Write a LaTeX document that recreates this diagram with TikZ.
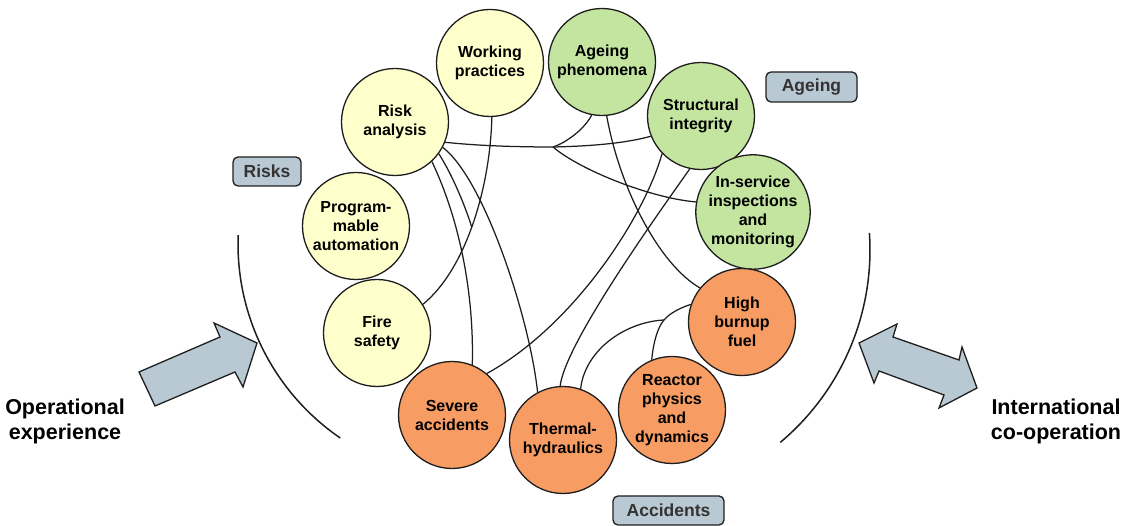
\documentclass[tikz,border=0pt]{standalone}
\usepackage{fontspec}
\setmainfont{Liberation Sans}
\definecolor{yel}{HTML}{FFFFCC}
\definecolor{grn}{HTML}{C3E5A0}
\definecolor{org}{HTML}{F79C63}
\definecolor{blu}{HTML}{B9C9D3}
\definecolor{ink}{HTML}{1E1E1E}
\definecolor{boxtxt}{HTML}{333333}
\tikzset{
  topic/.style={circle, draw=ink, line width=1.3pt, minimum size=107pt, inner sep=0pt,
    align=center, font=\fontsize{16}{19}\selectfont\bfseries},
  yt/.style={topic, fill=yel},
  gt/.style={topic, fill=grn},
  ot/.style={topic, fill=org},
  tag/.style={draw=ink, line width=1.3pt, fill=blu, rounded corners=5pt, inner sep=0pt,
    text=boxtxt, font=\fontsize{17.5}{20}\selectfont\bfseries},
  link/.style={draw=ink, line width=1.25pt},
  bigarrow/.style={draw=ink, line width=1.3pt, fill=blu, line join=miter},
  side/.style={align=center, font=\fontsize{21.5}{25}\selectfont\bfseries},
  bracket/.style={draw=ink, line width=1.5pt}
}
\begin{document}
\begin{tikzpicture}[x=1pt,y=1pt]
\useasboundingbox (0,0) rectangle (1122,526);
% topic circles
\node[yt] (wp) at (490,463) {Working\\practices};
\node[gt] (ap) at (602,464) {Ageing\\phenomena};
\node[gt] (si) at (701,410) {Structural\\integrity};
\node[gt] (isi) at (753,314) {In-service\\inspections\\and\\monitoring};
\node[ot] (hb) at (742,204) {High\\burnup\\fuel};
\node[ot] (rp) at (672,116) {Reactor\\physics\\and\\dynamics};
\node[ot] (th) at (563,86) {Thermal-\\hydraulics};
\node[ot] (sa) at (452,111) {Severe\\accidents};
\node[yt] (fs) at (377,193) {Fire\\safety};
\node[yt] (pa) at (356,300) {Program-\\mable\\automation};
\node[yt] (ra) at (395,404) {Risk\\analysis};
% group tags
\node[tag, minimum width=68pt, minimum height=29pt] (risks) at (267,354.5) {Risks};
\node[tag, minimum width=91pt, minimum height=30pt] (ageing) at (811.5,439) {Ageing};
\node[tag, minimum width=111pt, minimum height=29pt] (accidents) at (668.5,15.5) {Accidents};
% side texts
\node[side] (oper) at (65,105) {Operational\\experience};
\node[side] (intl) at (1056,105) {International\\co-operation};
% junctions
\coordinate (j1) at (553,379);
\coordinate (j2) at (664,206);
\coordinate (j3) at (471.7,298.9);
% connectors
\path[link] (wp.-88) .. controls (490,336) and (465,256) .. (fs.32);
\path[link] (ra.-36) .. controls (452,352) and (466,318) .. (j3);
\path[link] (ra.-22) .. controls (480,380) and (520,379) .. (j1);
\path[link] (j1) .. controls (568,384) and (585,398) .. (ap.-101);
\path[link] (j1) .. controls (600,380) and (630,384) .. (si.-158);
\path[link] (j1) .. controls (580,356) and (650,328) .. (isi.170);
\path[link] (ra.-47) .. controls (462,301) and (474,226) .. (sa.68);
\path[link] (ra.-28) .. controls (485,346) and (530,206) .. (th.118);
\path[link] (ap.-85) .. controls (620,336) and (660,261) .. (hb.141);
\path[link] (si.-136) .. controls (645,311) and (575,201) .. (sa.50);
\path[link] (si.-102) .. controls (650,301) and (565,181) .. (th.93);
\path[link] (hb.161) .. controls (680,218) and (670,213) .. (j2) .. controls (657,198) and (653,181) .. (rp.112);
\path[link] (th.71) .. controls (585,176) and (625,204) .. (j2);
% brackets
\coordinate (lac) at (238.2,290.9);
\draw[bracket] (lac) arc[start angle=177.8, end angle=235.6, radius=235];
\coordinate (rac) at (869.4,293.0);
\draw[bracket] (rac) arc[start angle=3.9, end angle=-50, radius=251];
% block arrows
\draw[bigarrow] (139,154) -- (220,189) -- (214,203) -- (257,183) -- (243,139) -- (235,154) -- (155,120) -- cycle;
\draw[bigarrow] (859,183) -- (897,202) -- (893,189) -- (959,166) -- (962,179) -- (977,138) -- (939,118) -- (944,131) -- (879,155) -- (874,143) -- cycle;
\end{tikzpicture}
\end{document}
